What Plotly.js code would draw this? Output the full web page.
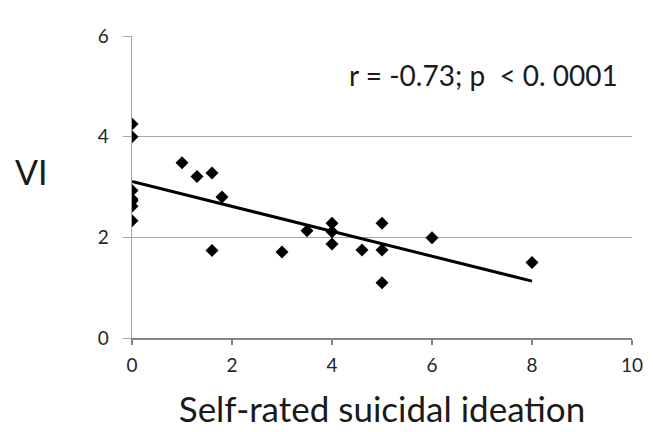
<!DOCTYPE html>
<html>
<head>
<meta charset="utf-8">
<script src="https://cdn.plot.ly/plotly-3.0.1.min.js"></script>
<style>html,body{margin:0;padding:0;background:#fff}#chart{width:653px;height:432px}</style>
</head>
<body>
<div id="chart"></div>
<script>
const ideation = [0, 0, 0, 0, 0, 0, 0, 1.0, 1.3, 1.6, 1.8, 1.6, 3.0, 3.5, 4.0, 4.0, 4.0, 4.6, 5.0, 5.0, 5.0, 6.0, 8.0];
const vi       = [4.25, 4.0, 2.93, 2.76, 2.72, 2.62, 2.33, 3.48, 3.21, 3.28, 2.80, 1.74, 1.71, 2.13, 2.28, 2.11, 1.87, 1.75, 2.28, 1.75, 1.10, 1.99, 1.50];
const trendX = [0, 8];
const trendY = [3.11, 1.13];
const xTicks = [0, 2, 4, 6, 8, 10];
const yTicks = [0, 2, 4, 6];
const statText = "r = -0.73; p&nbsp;&nbsp;&lt; 0. 0001";

const font = "Lato, 'Open Sans', sans-serif";
const data = [
  {x: ideation, y: vi, type: 'scatter', mode: 'markers',
   marker: {symbol: 'diamond', size: 10, color: '#000'}, hoverinfo: 'none'},
  {x: trendX, y: trendY, type: 'scatter', mode: 'lines',
   line: {color: '#000', width: 3}, hoverinfo: 'none'}
];
const layout = {
  width: 653, height: 432, showlegend: false,
  margin: {l: 132, r: 21, t: 36, b: 94},
  paper_bgcolor: '#fff', plot_bgcolor: '#fff',
  font: {family: font, color: '#262626', size: 19},
  xaxis: {range: [0, 10], tickvals: xTicks, ticktext: xTicks.map(String),
    showgrid: false, zeroline: false, showline: true, linecolor: '#858585', linewidth: 2,
    ticks: 'outside', ticklen: 5, tickwidth: 2, tickcolor: '#858585',
    ticklabelstandoff: 4,
    tickfont: {size: 19, color: '#262626'},
    title: {text: 'Self-rated suicidal ideation', font: {size: 35, color: '#1a1a1a'}, standoff: 23}},
  yaxis: {range: [0, 6], tickvals: yTicks, ticktext: yTicks.map(String),
    showgrid: true, gridcolor: '#a6a6a6', gridwidth: 1, zeroline: false,
    showline: true, linecolor: '#a6a6a6', linewidth: 1.5,
    ticks: 'outside', ticklen: 8, tickwidth: 1, tickcolor: '#a6a6a6',
    ticklabelstandoff: 10,
    tickfont: {size: 19, color: '#262626'}},
  annotations: [
    {xref: 'paper', yref: 'paper', x: 0.702, y: 0.871, text: statText, showarrow: false,
     font: {size: 28, color: '#1a1a1a'}, xanchor: 'center', yanchor: 'middle'},
    {xref: 'paper', yref: 'paper', x: -0.202, y: 0.55, text: 'VI', showarrow: false,
     font: {size: 34, color: '#1a1a1a'}, xanchor: 'center', yanchor: 'middle'}
  ]
};
Plotly.newPlot('chart', data, layout, {staticPlot: true});
</script>
</body>
</html>
